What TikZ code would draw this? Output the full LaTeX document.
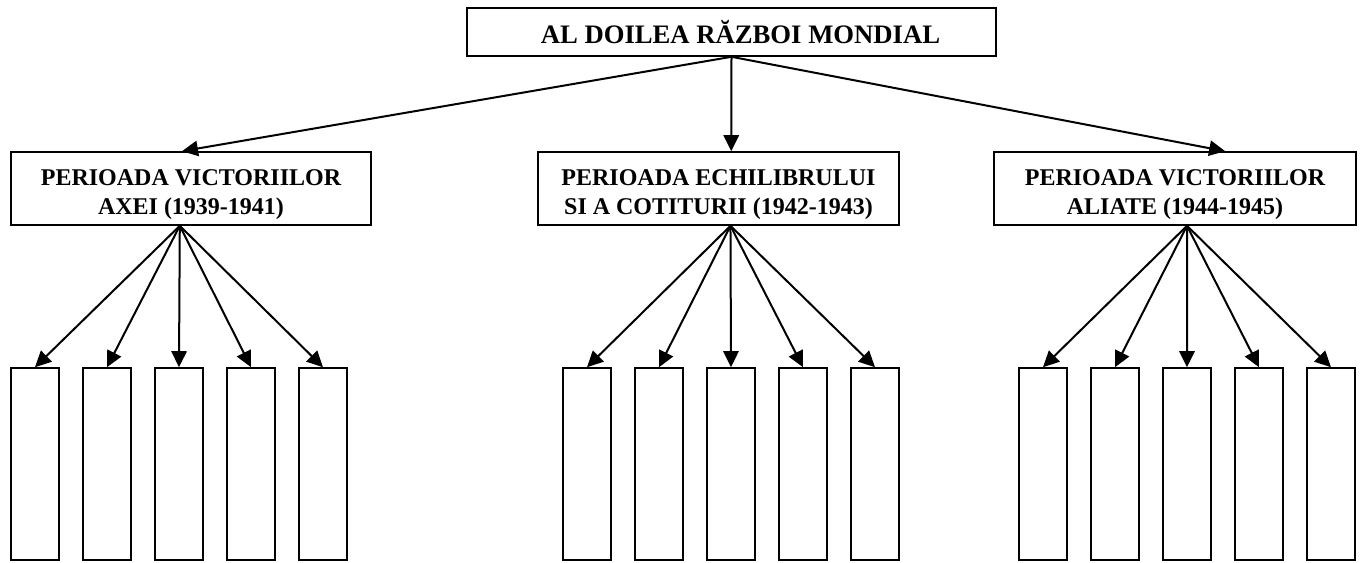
\documentclass[tikz,border=0pt]{standalone}
\usepackage{fontspec}
\setmainfont{Liberation Serif}
\usetikzlibrary{arrows.meta,calc}
\tikzset{
  box/.style={draw, line width=1.2pt, inner sep=0pt},
  period/.style={box, minimum height=54.75pt, align=center, font=\fontsize{18}{21.75}\selectfont\bfseries},
  slot/.style={box, minimum width=36pt, minimum height=144pt},
  arr/.style={line width=1.5pt, -{Triangle[length=12pt,width=11.5pt]}}
}
\newcommand{\tallstrut}{\rule{0pt}{21pt}}
\begin{document}
\begin{tikzpicture}[x=0.75pt,y=-0.75pt]
        \useasboundingbox (0,0) rectangle (1360,562);
        \node[box, minimum width=396.75pt, minimum height=36pt, font=\fontsize{20}{24}\selectfont\bfseries] (war) at (731.5,32) {\hspace*{13.5pt}AL DOILEA RĂZBOI MONDIAL};
        \node[period, minimum width=270pt] (p1) at (191,188.5) {\tallstrut PERIOADA VICTORIILOR\\AXEI (1939-1941)};
        \node[period, minimum width=270.75pt] (p2) at (718.5,188.5) {\tallstrut PERIOADA ECHILIBRULUI\\SI A COTITURII (1942-1943)};
        \node[period, minimum width=271.5pt] (p3) at (1175,188.5) {\tallstrut PERIOADA VICTORIILOR\\ALIATE (1944-1945)};
        \foreach \i/\x/\a/\b in {1/35/0.475/0.469, 2/587/0.535/0.533, 3/1043/0.638/0.533} {
            \draw[arr] (war.south) -- ($(p\i.north west)!\a!(p\i.north east)$);
            \coordinate (s\i) at ($(p\i.south west)!\b!(p\i.south east)$);
            \foreach \k in {0,...,4} {
                \node[slot] (b\i\k) at (\x+72*\k,464) {};
                \draw[arr] (s\i) -- (b\i\k.north);
            }
        }
    \end{tikzpicture}
\end{document}
